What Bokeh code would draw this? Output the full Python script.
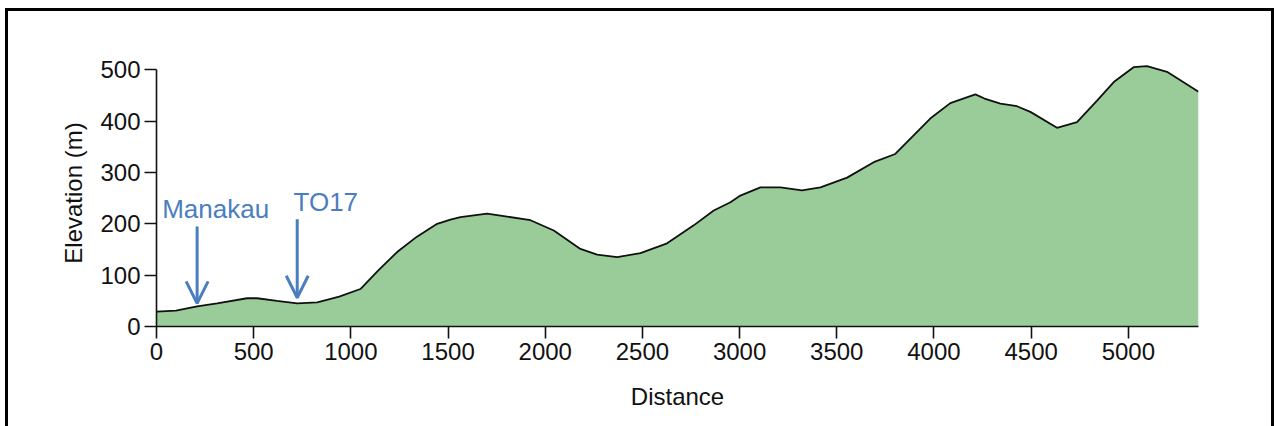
from bokeh.plotting import figure
from bokeh.models import Arrow, OpenHead, Range1d, FixedTicker
from bokeh.core.properties import value
from bokeh.embed import file_html
from bokeh.resources import INLINE

# Elevation profile (distance, elevation in m)
distance = [0, 100, 209, 312, 466, 518, 620, 724, 827, 940, 1049, 1140, 1238,
            1340, 1444, 1512, 1564, 1701, 1804, 1924, 2044, 2181, 2267, 2370,
            2490, 2627, 2764, 2867, 2953, 3004, 3107, 3210, 3321, 3416, 3553,
            3690, 3801, 3861, 3981, 4084, 4213, 4260, 4342, 4427, 4496, 4633,
            4736, 4839, 4925, 5027, 5096, 5199, 5361]
elevation = [29, 31, 39, 45, 55, 55, 50, 45, 47, 58, 73, 109, 145,
             175, 200, 208, 213, 220, 214, 207, 187, 151, 140, 135,
             143, 162, 197, 226, 242, 255, 271, 271, 265, 271, 290,
             320, 336, 359, 405, 435, 452, 444, 434, 429, 418, 387,
             398, 440, 476, 505, 507, 496, 457]

x_ticks = [0, 500, 1000, 1500, 2000, 2500, 3000, 3500, 4000, 4500, 5000]
y_ticks = [0, 100, 200, 300, 400, 500]

# Site annotations
site_names = ["Manakau", "TO17"]
site_label_x = [29, 705]
site_label_y = [229, 242]
site_arrow_x = [209, 724]
site_arrow_top = [195, 209]
site_arrow_tip = [45, 56]

BLUE = "#4a7ebf"
FONT = "Liberation Sans"

# outer frame drawn with inset box-shadows (left, top, right edges only)
frame_css = ("inset 0 8px 0 0 white, inset 5px 0 0 0 white, inset -4px 0 0 0 white, "
             "inset 0 11px 0 0 black, inset 8px 0 0 0 black, inset -7px 0 0 0 black")

p = figure(width=1278, height=426, output_backend="svg", toolbar_location=None,
           x_range=Range1d(0, 5361), y_range=Range1d(0, 520),
           min_border_left=156, min_border_right=80,
           min_border_top=59, min_border_bottom=100,
           styles={"box-shadow": frame_css, "background-color": "white"})
p.outline_line_color = None
p.grid.grid_line_color = None
p.background_fill_color = "white"
p.border_fill_color = None

p.varea(x=distance, y1=0, y2=elevation, fill_color="#9acc99", fill_alpha=1.0)
p.line(x=distance, y=elevation, line_color="#111111", line_width=1.8)

for ax in (p.xaxis[0], p.yaxis[0]):
    ax.axis_line_color = "#111111"
    ax.axis_line_width = 1.6
    ax.major_tick_line_color = "#111111"
    ax.major_tick_line_width = 1.6
    ax.major_tick_out = 12
    ax.major_tick_in = 0
    ax.minor_tick_line_color = None
    ax.major_label_text_font = FONT
    ax.major_label_text_font_size = "24px"
    ax.major_label_text_color = "#111111"
    ax.major_label_standoff = 4
    ax.axis_label_text_font = FONT
    ax.axis_label_text_font_size = "24px"
    ax.axis_label_text_font_style = "normal"
    ax.axis_label_text_color = "#111111"

p.xaxis[0].ticker = FixedTicker(ticks=x_ticks)
p.yaxis[0].ticker = FixedTicker(ticks=y_ticks)
p.xaxis[0].bounds = (0, 5361)
p.yaxis[0].bounds = (0, 500)
p.xaxis[0].axis_label = "Distance"
p.yaxis[0].axis_label = "Elevation (m)"
p.xaxis[0].axis_label_standoff = 20
p.yaxis[0].axis_label_standoff = 10

# site labels and arrows
p.text(x=site_label_x, y=site_label_y, text=site_names,
       text_font=value(FONT), text_font_size="26px", text_color=BLUE,
       text_baseline="alphabetic", text_align="left")
for xa, yt, yb in zip(site_arrow_x, site_arrow_top, site_arrow_tip):
    p.add_layout(Arrow(end=OpenHead(size=22, line_color=BLUE, line_width=3),
                       x_start=xa, y_start=yt, x_end=xa, y_end=yb,
                       line_color=BLUE, line_width=3))

open("out.html", "w").write(file_html(p, INLINE))
